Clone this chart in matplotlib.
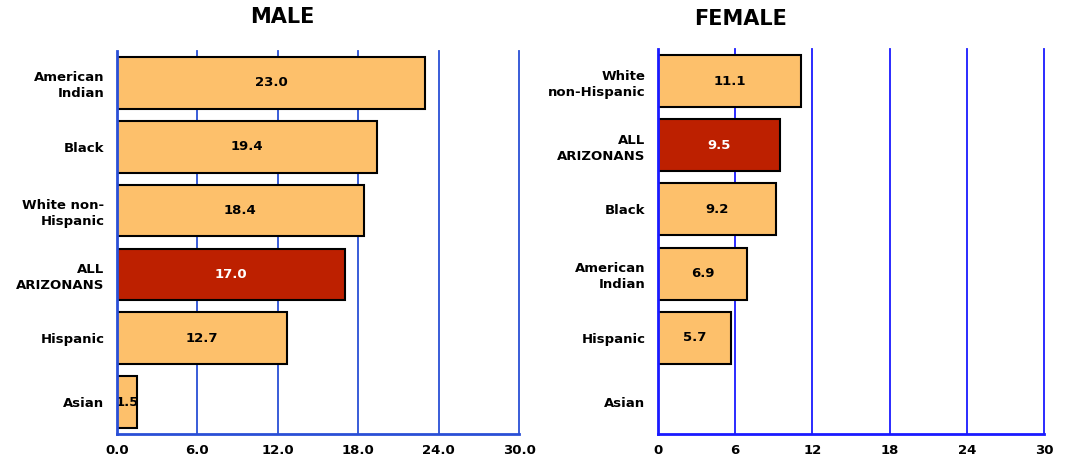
import matplotlib
matplotlib.use("Agg")
import matplotlib.pyplot as plt
import numpy as np

# Rates by race/ethnicity, ordered top to bottom as drawn
male_groups = ["American\nIndian", "Black", "White non-\nHispanic", "ALL\nARIZONANS", "Hispanic", "Asian"]
male_values = [23.0, 19.4, 18.4, 17.0, 12.7, 1.5]
male_ticks = ["0.0", "6.0", "12.0", "18.0", "24.0", "30.0"]

female_groups = ["White\nnon-Hispanic", "ALL\nARIZONANS", "Black", "American\nIndian", "Hispanic", "Asian"]
female_values = [11.1, 9.5, 9.2, 6.9, 5.7, None]
female_ticks = ["0", "6", "12", "18", "24", "30"]

tick_values = [0, 6, 12, 18, 24, 30]

ORANGE = "#FDC06B"
RED = "#BD2000"

plt.rcParams["font.family"] = ["DejaVu Sans"]
plt.rcParams["font.weight"] = "bold"

fig = plt.figure(figsize=(10.70, 4.61), dpi=100)


def draw_panel(rect, title, groups, values, ticks, grid_color, title_xy):
    ax = fig.add_axes(rect)
    n = len(groups)
    ypos = np.arange(n)
    for y, v, g in zip(ypos, values, groups):
        if v is None:
            continue
        is_total = g.startswith("ALL")
        ax.barh(y, v, height=0.81, color=RED if is_total else ORANGE,
                edgecolor="black", linewidth=1.5, zorder=3)
        ax.text(v / 2, y, f"{v:.1f}", ha="center", va="center",
                fontsize=9.5, fontweight="bold",
                color="white" if is_total else "black", zorder=4)
    ax.set_xlim(0, 30)
    ax.set_ylim(n - 0.5, -0.5)
    ax.set_yticks(ypos)
    ax.set_yticklabels(groups, fontsize=9.5, fontweight="bold",
                       linespacing=1.3, ha="right")
    ax.set_xticks(tick_values)
    ax.set_xticklabels(ticks, fontsize=9.5, fontweight="bold")
    ax.tick_params(axis="y", length=0, pad=9)
    ax.tick_params(axis="x", length=0, pad=7)
    for v in tick_values[1:]:
        ax.axvline(v, color=grid_color, linewidth=1.3, zorder=1, clip_on=False)
    for side in ("top", "right"):
        ax.spines[side].set_visible(False)
    for side in ("left", "bottom"):
        ax.spines[side].set_color(grid_color)
        ax.spines[side].set_linewidth(2)
        ax.spines[side].set_zorder(5)
    fig.text(title_xy[0] / 1070, 1 - title_xy[1] / 461, title,
             ha="center", va="center", fontsize=15, fontweight="bold")
    return ax


draw_panel([117 / 1070, 1 - 434 / 461, 402 / 1070, 383 / 461],
           "MALE", male_groups, male_values, male_ticks, "#2a4fd6", (282, 17))
draw_panel([658 / 1070, 1 - 434 / 461, 386 / 1070, 385 / 461],
           "FEMALE", female_groups, female_values, female_ticks, "#1a1aff", (741, 19))

fig.savefig("out.png", dpi=100)
